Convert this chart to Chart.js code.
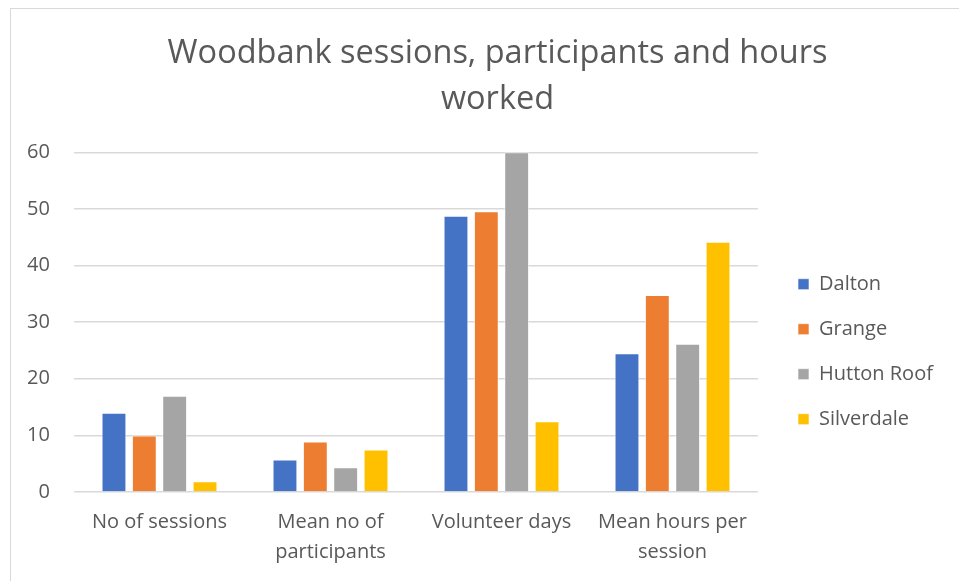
<!DOCTYPE html>
<html lang="en">

<head>
    <title>Woodbank</title>
    <meta charset="utf-8">
    <style>
        body { margin: 0; overflow: hidden; background: #fff; }
        #frame { position: absolute; left: 10px; top: 8px; width: 975px; height: 585px; border: 1px solid #d9d9d9; box-sizing: border-box; }
    </style>
    <script src="https://cdn.jsdelivr.net/npm/chart.js@4/dist/chart.umd.min.js"></script>
</head>

<body>
    <div id="frame"><canvas id="myChart" width="973" height="583"></canvas></div>
    <script>
        var categories = [['No of sessions'], ['Mean no of', 'participants'], ['Volunteer days'], ['Mean hours per', 'session']];
        var dalton = [14, 5.75, 48.8, 24.5];
        var grange = [10, 8.9, 49.6, 34.8];
        var huttonRoof = [17, 4.35, 60, 26.2];
        var silverdale = [1.9, 7.5, 12.5, 44.2];
        var yTicks = [0, 10, 20, 30, 40, 50, 60];

        var grey = '#595959';
        var font = "'Open Sans', sans-serif";

        function bar(label, data, color) {
            return {
                label: label,
                data: data,
                backgroundColor: color,
                borderColor: 'rgba(255,255,255,0.6)',
                borderWidth: 1,
                categoryPercentage: 0.71,
                barPercentage: 0.82
            };
        }

        var ctx = document.getElementById('myChart').getContext('2d');
        var chart = new Chart(ctx, {
            type: 'bar',
            data: {
                labels: categories,
                datasets: [
                    bar('Dalton', dalton, '#4472C4'),
                    bar('Grange', grange, '#ED7D31'),
                    bar('Hutton Roof', huttonRoof, '#A5A5A5'),
                    bar('Silverdale', silverdale, '#FFC000')
                ]
            },
            options: {
                responsive: false,
                animation: false,
                // equal side padding keeps the title centred on the frame
                layout: { padding: { left: 46, right: 46, top: 10, bottom: 10 } },
                plugins: {
                    title: {
                        display: true,
                        text: ['Woodbank sessions, participants and hours', 'worked'],
                        color: grey,
                        font: { family: font, size: 32.5, weight: 'normal', lineHeight: 1.42 },
                        padding: { top: 12, bottom: 29 }
                    },
                    legend: {
                        position: 'right',
                        maxWidth: 165,
                        title: {
                            display: true,
                            text: ' ',
                            font: { size: 12 },
                            padding: { top: 0, bottom: 88 }
                        },
                        labels: {
                            color: grey,
                            font: { family: font, size: 20 },
                            boxWidth: 11,
                            boxHeight: 11,
                            padding: 25
                        }
                    },
                    tooltip: { enabled: false }
                },
                scales: {
                    x: {
                        grid: { display: false, drawTicks: false },
                        border: { display: false },
                        ticks: { color: grey, font: { family: font, size: 20, lineHeight: 1.5 }, padding: 15, maxRotation: 0 }
                    },
                    y: {
                        min: 0,
                        max: 60,
                        afterBuildTicks: function (axis) {
                            axis.ticks = yTicks.map(function (v) { return { value: v }; });
                        },
                        afterFit: function (s) { s.width = 17; },
                        grid: { color: '#d9d9d9', lineWidth: 1.5, drawTicks: false },
                        border: { display: false },
                        // mirrored so the labels are not clipped to the narrow axis box
                        ticks: { color: grey, font: { family: font, size: 20 }, mirror: true, crossAlign: 'far', padding: -47 }
                    },
                    // empty spacer between the plot and the legend
                    gap: {
                        position: 'right',
                        grid: { display: false },
                        border: { display: false },
                        ticks: { display: false },
                        afterFit: function (s) { s.width = 15; }
                    }
                }
            }
        });
    </script>
</body>

</html>
